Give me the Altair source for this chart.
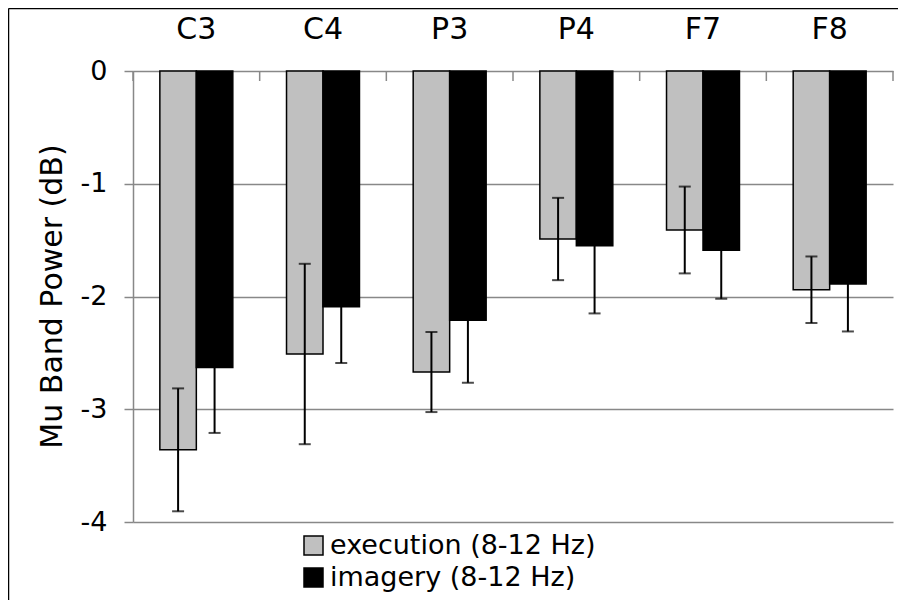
import altair as alt
import pandas as pd

categories = ["C3", "C4", "P3", "P4", "F7", "F8"]
series_names = ["execution (8-12 Hz)", "imagery (8-12 Hz)"]
execution = [-3.36, -2.51, -2.67, -1.49, -1.41, -1.94]
imagery = [-2.63, -2.09, -2.21, -1.55, -1.59, -1.89]
execution_err = [0.545, 0.80, 0.355, 0.365, 0.385, 0.295]
imagery_err = [0.58, 0.50, 0.555, 0.60, 0.43, 0.42]
y_ticks = [0, -1, -2, -3, -4]
series_colors = ["#C0C0C0", "#000000"]

rows = []
for s, vals, errs in ((series_names[0], execution, execution_err),
                      (series_names[1], imagery, imagery_err)):
    for c, v, e in zip(categories, vals, errs):
        rows.append({"cat": c, "series": s, "value": v, "lo": v - e, "hi": v + e})
df = pd.DataFrame(rows)

FONT = "DejaVu Sans"
GRID = "#888888"

xscale = alt.Scale(paddingInner=0.424, paddingOuter=0.212)
x = alt.X("cat:N", sort=categories, title=None, scale=xscale,
          axis=alt.Axis(orient="top", labelAngle=0, labelFontSize=30, labelFont=FONT,
                        labelColor="black", domain=False, ticks=False, tickSize=0,
                        labelPadding=27, grid=False))
xo = alt.XOffset("series:N", sort=series_names,
                 scale=alt.Scale(paddingInner=0, paddingOuter=0))
yscale = alt.Scale(domain=[-4, 0], nice=False)

base = alt.Chart(df)

bars = base.mark_bar(stroke="black", strokeWidth=1.5).encode(
    x=x, xOffset=xo,
    y=alt.Y("value:Q", scale=yscale,
            axis=alt.Axis(values=y_ticks, grid=True, gridColor=GRID, gridWidth=1.5,
                          domain=True, domainColor=GRID, domainWidth=1.5,
                          ticks=True, tickColor=GRID, tickWidth=1.5, tickSize=9,
                          labelPadding=17, labelFontSize=27, labelFont=FONT,
                          labelColor="black", labelExpr="'' + datum.value",
                          title="Mu Band Power (dB)", titleFont=FONT, titleFontSize=30,
                          titleFontWeight="normal", titleColor="black",
                          titleX=-72, titleY=225, titleBaseline="alphabetic")),
    color=alt.Color("series:N", sort=series_names,
                    scale=alt.Scale(domain=series_names, range=series_colors),
                    legend=alt.Legend(title=None, orient="none", legendX=167, legendY=461,
                                      direction="vertical", symbolType="square",
                                      symbolSize=361, symbolStrokeColor="black",
                                      symbolStrokeWidth=1.5, symbolOpacity=1,
                                      labelFontSize=27, labelFont=FONT, labelColor="black",
                                      labelLimit=600, rowPadding=4, labelOffset=3,
                                      padding=0)),
)

err = base.mark_rule(color="black", strokeWidth=2).encode(
    x=x, xOffset=xo, y=alt.Y("lo:Q", scale=yscale), y2="hi:Q")
cap_lo = base.mark_tick(color="black", size=12, thickness=2, orient="horizontal").encode(
    x=x, xOffset=xo, y=alt.Y("lo:Q", scale=yscale))
cap_hi = base.mark_tick(color="black", size=12, thickness=2, orient="horizontal").encode(
    x=x, xOffset=xo, y=alt.Y("hi:Q", scale=yscale))

main = alt.layer(bars, err, cap_lo, cap_hi)

# category-boundary tick marks hanging below the zero line
tick_scale = alt.Scale(paddingInner=0, paddingOuter=0)
xticks = alt.Chart(pd.DataFrame({"cat": categories})).mark_rule(
    color=GRID, strokeWidth=1.5).encode(
    x=alt.X("cat:N", sort=categories, bandPosition=0, scale=tick_scale, axis=None),
    y=alt.value(0), y2=alt.value(10))
xtick_end = alt.Chart(pd.DataFrame({"cat": categories[-1:]})).mark_rule(
    color=GRID, strokeWidth=1.5).encode(
    x=alt.X("cat:N", bandPosition=1, scale=tick_scale, axis=None),
    y=alt.value(0), y2=alt.value(10))

frame_df = pd.DataFrame({"a": [0]})
frame_left = alt.Chart(frame_df).mark_rule(color="black", strokeWidth=1.5).encode(
    x=alt.value(-124.5), y=alt.value(-62.5), y2=alt.value(600))
frame_top = alt.Chart(frame_df).mark_rule(color="black", strokeWidth=1.5).encode(
    x=alt.value(-124.5), x2=alt.value(800), y=alt.value(-62.5))

chart = alt.layer(main, xticks, xtick_end, frame_left, frame_top).resolve_scale(
    x="independent"
).properties(
    width=760, height=451,
    padding={"left": 125, "top": 63, "right": 5, "bottom": 78},
    autosize=alt.AutoSizeParams(type="none"),
).configure_view(stroke=None)

chart.save("out.html", embed_options={"renderer": "svg", "actions": False})
